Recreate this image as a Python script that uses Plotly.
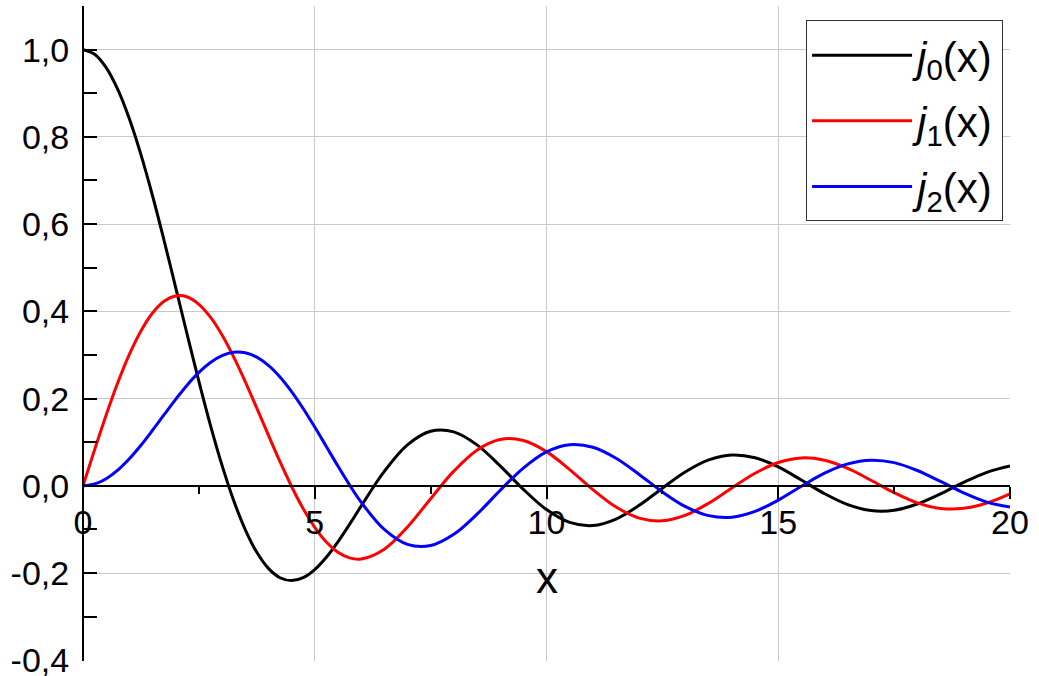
import plotly.graph_objects as go

# Sample points of the spherical Bessel functions j0, j1, j2
# (quarter steps where the curves bend sharply, half steps beyond x = 6)
x_vals = [0.0, 0.25, 0.5, 0.75, 1.0, 1.25, 1.5, 1.75, 2.0, 2.25, 2.5, 2.75, 3.0, 3.25,
          3.5, 3.75, 4.0, 4.25, 4.5, 4.75, 5.0, 5.25, 5.5, 5.75, 6.0,
          6.5, 7.0, 7.5, 8.0, 8.5, 9.0, 9.5, 10.0, 10.5, 11.0, 11.5, 12.0, 12.5, 13.0,
          13.5, 14.0, 14.5, 15.0, 15.5, 16.0, 16.5, 17.0, 17.5, 18.0, 18.5, 19.0,
          19.5, 20.0]

j0_vals = [1.0000, 0.9896, 0.9589, 0.9089, 0.8415, 0.7592, 0.6650, 0.5623, 0.4546,
           0.3458, 0.2394, 0.1388, 0.0470, -0.0333, -0.1002, -0.1524, -0.1892, -0.2106,
           -0.2172, -0.2104, -0.1918, -0.1636, -0.1283, -0.0884, -0.0466,
           0.0331, 0.0939, 0.1251, 0.1237, 0.0939, 0.0458, -0.0079, -0.0544, -0.0838,
           -0.0909, -0.0761, -0.0447, -0.0053, 0.0323, 0.0595, 0.0708, 0.0645, 0.0434,
           0.0133, -0.0180, -0.0431, -0.0566, -0.0560, -0.0417, -0.0185, 0.0079,
           0.0311, 0.0456]

j1_vals = [0.0000, 0.0828, 0.1625, 0.2362, 0.3012, 0.3551, 0.3962, 0.4232, 0.4354,
           0.4329, 0.4162, 0.3866, 0.3457, 0.2956, 0.2389, 0.1782, 0.1161, 0.0554,
           -0.0014, -0.0522, -0.0951, -0.1287, -0.1522, -0.1652, -0.1678,
           -0.1451, -0.0943, -0.0295, 0.0337, 0.0819, 0.1063, 0.1041, 0.0785, 0.0373,
           -0.0087, -0.0486, -0.0740, -0.0802, -0.0673, -0.0397, -0.0047, 0.0289,
           0.0535, 0.0640, 0.0587, 0.0400, 0.0129, -0.0157, -0.0390, -0.0518, -0.0516,
           -0.0392, -0.0181]

j2_vals = [0.0000, 0.0042, 0.0164, 0.0360, 0.0620, 0.0930, 0.1274, 0.1631, 0.1984,
           0.2314, 0.2600, 0.2829, 0.2986, 0.3062, 0.3050, 0.2950, 0.2763, 0.2497,
           0.2162, 0.1774, 0.1347, 0.0901, 0.0453, 0.0022, -0.0373,
           -0.1000, -0.1343, -0.1369, -0.1111, -0.0650, -0.0104, 0.0408, 0.0780, 0.0944,
           0.0886, 0.0634, 0.0262, -0.0140, -0.0478, -0.0683, -0.0718, -0.0585, -0.0327,
           -0.0009, 0.0290, 0.0503, 0.0589, 0.0533, 0.0352, 0.0101, -0.0160, -0.0372,
           -0.0484]

series_names = ["<i>j</i><sub>0</sub>(x)", "<i>j</i><sub>1</sub>(x)", "<i>j</i><sub>2</sub>(x)"]
series_colors = ["#000000", "#ff0000", "#0000ff"]

x_tickvals = [0, 5, 10, 15, 20]
x_ticktext = ["0", "5", "10", "15", "20"]
x_minor = [2.5, 7.5, 12.5, 17.5]
x_title = "x"

y_tickvals = [-0.4, -0.2, 0.0, 0.2, 0.4, 0.6, 0.8, 1.0]
y_ticktext = ["-0,4", "-0,2", "0,0", "0,2", "0,4", "0,6", "0,8", "1,0"]
y_minor = [-0.3, -0.1, 0.1, 0.3, 0.5, 0.7, 0.9, 1.1]

X_RANGE = [0, 20]
Y_RANGE = [-0.4015, 1.1]
FONT = "Liberation Sans, Arial, sans-serif"

fig = go.Figure()
for name, ys, col in zip(series_names, [j0_vals, j1_vals, j2_vals], series_colors):
    fig.add_trace(go.Scatter(
        x=x_vals, y=ys, mode="lines", name=name, legendgroup=name,
        line=dict(color=col, width=3, shape="spline", smoothing=1.0),
    ))

# the horizontal axis sits on y = 0
zero_pos = (0 - Y_RANGE[0]) / (Y_RANGE[1] - Y_RANGE[0])

# axis title placed under the tick labels of the centred horizontal axis
fig.add_annotation(
    text=x_title, xref="x", yref="paper", x=10, y=0.127,
    xanchor="center", yanchor="middle", showarrow=False,
    font=dict(family=FONT, size=44, color="black"),
)

fig.update_layout(
    width=1039, height=676,
    margin=dict(l=83, r=29, t=6, b=15),
    paper_bgcolor="white", plot_bgcolor="white",
    font=dict(family=FONT, size=34, color="black"),
    showlegend=True,
    legend=dict(
        x=0.78, y=0.978, xanchor="left", yanchor="top",
        bgcolor="white", bordercolor="#333333", borderwidth=1,
        font=dict(family=FONT, size=42, color="black"),
        itemwidth=100, tracegroupgap=8,
    ),
    xaxis=dict(
        range=X_RANGE, anchor="free", position=zero_pos, automargin=False,
        tickmode="array", tickvals=x_tickvals, ticktext=x_ticktext,
        ticks="outside", ticklen=12, tickwidth=2, tickcolor="black",
        minor=dict(tickmode="array", tickvals=x_minor, ticks="outside",
                   ticklen=7, tickwidth=2, tickcolor="black", showgrid=False),
        showline=True, linecolor="black", linewidth=2,
        showgrid=True, gridcolor="#c8c8c8", gridwidth=1,
        zeroline=False, ticklabelstandoff=-6,
        tickfont=dict(family=FONT, size=34),
    ),
    xaxis2=dict(
        range=X_RANGE, anchor="free", position=zero_pos, overlaying="x", matches="x",
        automargin=False,
        tickmode="array", tickvals=x_tickvals, showticklabels=False,
        ticks="inside", ticklen=12, tickwidth=2, tickcolor="black",
        minor=dict(tickmode="array", tickvals=x_minor, ticks="inside",
                   ticklen=7, tickwidth=2, tickcolor="black", showgrid=False),
        showline=False, showgrid=False, zeroline=False,
    ),
    yaxis=dict(
        range=Y_RANGE, anchor="free", position=0, automargin=False,
        tickmode="array", tickvals=y_tickvals, ticktext=y_ticktext,
        ticks="inside", ticklen=13, tickwidth=2, tickcolor="black",
        minor=dict(tickmode="array", tickvals=y_minor, ticks="inside",
                   ticklen=13, tickwidth=2, tickcolor="black", showgrid=False),
        showline=True, linecolor="black", linewidth=2,
        showgrid=True, gridcolor="#c8c8c8", gridwidth=1,
        zeroline=False, ticklabelstandoff=6, ticklabeloverflow="allow",
        tickfont=dict(family=FONT, size=34),
    ),
)

fig.write_html("out.html")
